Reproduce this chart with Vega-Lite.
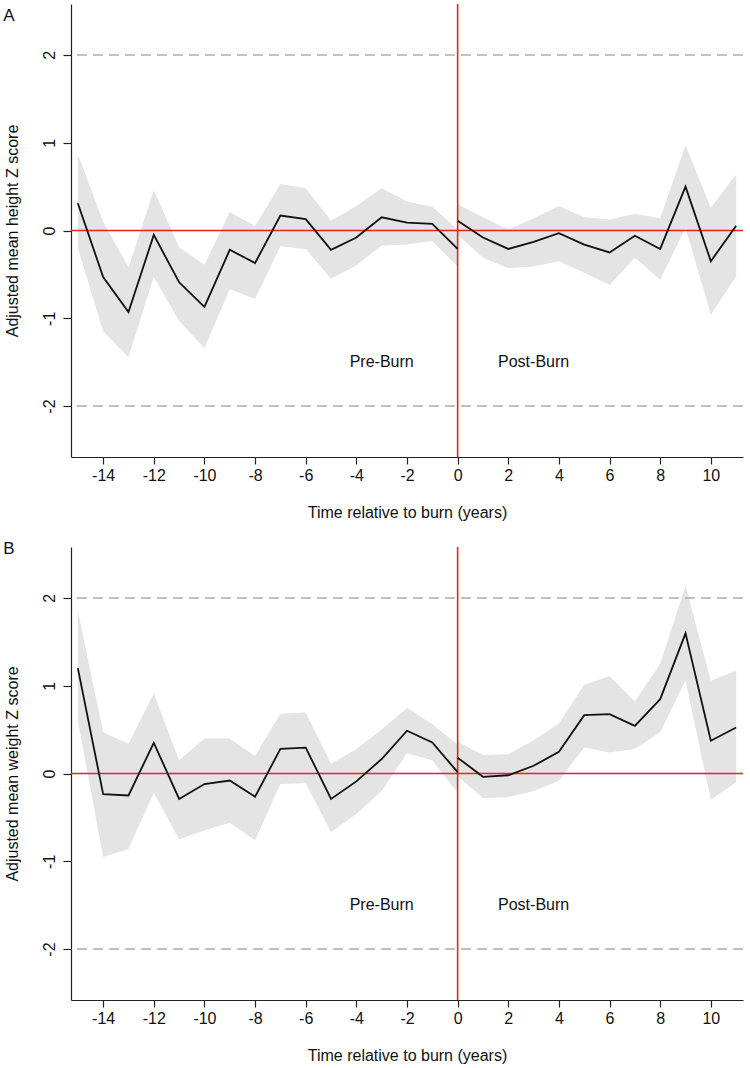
{
  "$schema": "https://vega.github.io/schema/vega-lite/v6.json",
  "padding": {"left": 3, "top": 3, "right": 3, "bottom": 3},
  "background": "white",
  "spacing": 20,
  "config": {
    "view": {"stroke": null},
    "font": "Liberation Sans",
    "axis": {
      "grid": false,
      "domainColor": "#222222",
      "tickColor": "#222222",
      "domainWidth": 1.2,
      "tickWidth": 1.2,
      "tickSize": 7,
      "labelFont": "Liberation Sans",
      "labelFontSize": 16,
      "labelColor": "#111111",
      "titleFont": "Liberation Sans",
      "titleFontSize": 16,
      "titleFontWeight": "normal",
      "titleColor": "#111111"
    }
  },
  "datasets": {
    "height": [
      {"t": -15, "period": "pre", "est": 0.31, "lo": -0.2, "hi": 0.87},
      {"t": -14, "period": "pre", "est": -0.53, "lo": -1.15, "hi": 0.1},
      {"t": -13, "period": "pre", "est": -0.93, "lo": -1.44, "hi": -0.42},
      {"t": -12, "period": "pre", "est": -0.05, "lo": -0.53, "hi": 0.46},
      {"t": -11, "period": "pre", "est": -0.59, "lo": -1.03, "hi": -0.19},
      {"t": -10, "period": "pre", "est": -0.87, "lo": -1.34, "hi": -0.39},
      {"t": -9, "period": "pre", "est": -0.22, "lo": -0.67, "hi": 0.21},
      {"t": -8, "period": "pre", "est": -0.37, "lo": -0.78, "hi": 0.05},
      {"t": -7, "period": "pre", "est": 0.17, "lo": -0.18, "hi": 0.53},
      {"t": -6, "period": "pre", "est": 0.13, "lo": -0.21, "hi": 0.48},
      {"t": -5, "period": "pre", "est": -0.22, "lo": -0.55, "hi": 0.11},
      {"t": -4, "period": "pre", "est": -0.08, "lo": -0.4, "hi": 0.28},
      {"t": -3, "period": "pre", "est": 0.15, "lo": -0.17, "hi": 0.48},
      {"t": -2, "period": "pre", "est": 0.09, "lo": -0.16, "hi": 0.33},
      {"t": -1, "period": "pre", "est": 0.075, "lo": -0.12, "hi": 0.27},
      {"t": 0, "period": "pre", "est": -0.21, "lo": -0.41, "hi": 0.01},
      {"t": 0, "period": "post", "est": 0.11, "lo": -0.05, "hi": 0.3},
      {"t": 1, "period": "post", "est": -0.08, "lo": -0.31, "hi": 0.15},
      {"t": 2, "period": "post", "est": -0.21, "lo": -0.43, "hi": 0.01},
      {"t": 3, "period": "post", "est": -0.13, "lo": -0.41, "hi": 0.14},
      {"t": 4, "period": "post", "est": -0.03, "lo": -0.35, "hi": 0.28},
      {"t": 5, "period": "post", "est": -0.16, "lo": -0.48, "hi": 0.15},
      {"t": 6, "period": "post", "est": -0.25, "lo": -0.62, "hi": 0.125},
      {"t": 7, "period": "post", "est": -0.06, "lo": -0.31, "hi": 0.19},
      {"t": 8, "period": "post", "est": -0.21, "lo": -0.56, "hi": 0.14},
      {"t": 9, "period": "post", "est": 0.5, "lo": 0.03, "hi": 0.97},
      {"t": 10, "period": "post", "est": -0.35, "lo": -0.96, "hi": 0.26},
      {"t": 11, "period": "post", "est": 0.055, "lo": -0.52, "hi": 0.64}
    ],
    "weight": [
      {"t": -15, "period": "pre", "est": 1.2, "lo": 0.6, "hi": 1.85},
      {"t": -14, "period": "pre", "est": -0.235, "lo": -0.95, "hi": 0.47},
      {"t": -13, "period": "pre", "est": -0.25, "lo": -0.86, "hi": 0.34},
      {"t": -12, "period": "pre", "est": 0.35, "lo": -0.22, "hi": 0.91},
      {"t": -11, "period": "pre", "est": -0.29, "lo": -0.75, "hi": 0.15},
      {"t": -10, "period": "pre", "est": -0.12, "lo": -0.65, "hi": 0.4},
      {"t": -9, "period": "pre", "est": -0.08, "lo": -0.56, "hi": 0.4},
      {"t": -8, "period": "pre", "est": -0.265, "lo": -0.76, "hi": 0.2},
      {"t": -7, "period": "pre", "est": 0.28, "lo": -0.12, "hi": 0.68},
      {"t": -6, "period": "pre", "est": 0.295, "lo": -0.11, "hi": 0.695},
      {"t": -5, "period": "pre", "est": -0.29, "lo": -0.67, "hi": 0.11},
      {"t": -4, "period": "pre", "est": -0.09, "lo": -0.46, "hi": 0.28},
      {"t": -3, "period": "pre", "est": 0.165, "lo": -0.2, "hi": 0.5},
      {"t": -2, "period": "pre", "est": 0.487, "lo": 0.23, "hi": 0.75},
      {"t": -1, "period": "pre", "est": 0.353, "lo": 0.15, "hi": 0.56},
      {"t": 0, "period": "pre", "est": 0.015, "lo": -0.22, "hi": 0.33},
      {"t": 0, "period": "post", "est": 0.18, "lo": -0.03, "hi": 0.365},
      {"t": 1, "period": "post", "est": -0.038, "lo": -0.28, "hi": 0.21},
      {"t": 2, "period": "post", "est": -0.02, "lo": -0.27, "hi": 0.22},
      {"t": 3, "period": "post", "est": 0.088, "lo": -0.2, "hi": 0.38},
      {"t": 4, "period": "post", "est": 0.247, "lo": -0.083, "hi": 0.57},
      {"t": 5, "period": "post", "est": 0.665, "lo": 0.296, "hi": 1.01},
      {"t": 6, "period": "post", "est": 0.677, "lo": 0.24, "hi": 1.11},
      {"t": 7, "period": "post", "est": 0.543, "lo": 0.28, "hi": 0.82},
      {"t": 8, "period": "post", "est": 0.847, "lo": 0.47, "hi": 1.25},
      {"t": 9, "period": "post", "est": 1.596, "lo": 1.06, "hi": 2.14},
      {"t": 10, "period": "post", "est": 0.373, "lo": -0.3, "hi": 1.056},
      {"t": 11, "period": "post", "est": 0.524, "lo": -0.1, "hi": 1.17}
    ],
    "refs": [{"z": 2}, {"z": -2}],
    "zeroH": [{"zh": 0}],
    "zeroV": [{"tv": 0}],
    "labels": [{"t": -3, "z": -1.5, "label": "Pre-Burn"}, {"t": 3, "z": -1.5, "label": "Post-Burn"}],
    "panelA": [{"t": -17.95, "z": 2.386, "label": "A"}],
    "panelB": [{"t": -17.95, "z": 2.5, "label": "B"}]
  },
  "vconcat": [
    {
      "width": 672,
      "height": 453,
      "layer": [
        {
          "data": {"name": "height"},
          "mark": {"type": "area", "color": "#e4e4e4", "opacity": 1},
          "encoding": {
            "x": {"field": "t", "type": "quantitative", "scale": {"domain": [-15.27, 11.27], "nice": false, "zero": false},
              "axis": {"values": [-14, -12, -10, -8, -6, -4, -2, 0, 2, 4, 6, 8, 10], "labelExpr": "'' + datum.value", "labelPadding": 3, "titlePadding": 21, "title": "Time relative to burn (years)"}},
            "y": {"field": "lo", "type": "quantitative", "scale": {"domain": [-2.58, 2.58], "nice": false, "zero": false},
              "axis": {"values": [-2, -1, 0, 1, 2], "labelExpr": "'' + datum.value", "labelAngle": 270, "labelAlign": "center", "labelBaseline": "bottom", "labelPadding": 6, "tickSize": 8, "titlePadding": 21, "title": "Adjusted mean height Z score"}},
            "y2": {"field": "hi"},
            "detail": {"field": "period"}
          }
        },
        {
          "data": {"name": "refs"},
          "mark": {"type": "rule", "color": "#acacac", "strokeWidth": 1.5, "strokeDash": [10, 6]},
          "encoding": {"y": {"field": "z", "type": "quantitative"}}
        },
        {
          "data": {"name": "zeroV"},
          "mark": {"type": "rule", "stroke": "#e8231f", "strokeWidth": 1.6, "opacity": 1},
          "encoding": {"x": {"field": "tv", "type": "quantitative"}}
        },
        {
          "data": {"name": "zeroH"},
          "mark": {"type": "rule", "stroke": "#e8231f", "strokeWidth": 1.6, "opacity": 1},
          "encoding": {"y": {"field": "zh", "type": "quantitative"}}
        },
        {
          "data": {"name": "height"},
          "mark": {"type": "line", "color": "#111111", "strokeWidth": 1.8},
          "encoding": {
            "x": {"field": "t", "type": "quantitative"},
            "y": {"field": "est", "type": "quantitative"},
            "detail": {"field": "period"}
          }
        },
        {
          "data": {"name": "labels"},
          "mark": {"type": "text", "fontSize": 16, "font": "Liberation Sans", "align": "center", "baseline": "middle", "color": "#111111"},
          "encoding": {
            "x": {"field": "t", "type": "quantitative"},
            "y": {"field": "z", "type": "quantitative"},
            "text": {"field": "label"}
          }
        },
        {
          "data": {"name": "panelA"},
          "mark": {"type": "text", "fontSize": 17, "font": "Liberation Sans", "align": "left", "baseline": "alphabetic", "color": "#111111", "clip": false},
          "encoding": {
            "x": {"field": "t", "type": "quantitative"},
            "y": {"field": "z", "type": "quantitative"},
            "text": {"field": "label"}
          }
        }
      ]
    },
    {
      "width": 672,
      "height": 453,
      "layer": [
        {
          "data": {"name": "weight"},
          "mark": {"type": "area", "color": "#e4e4e4", "opacity": 1},
          "encoding": {
            "x": {"field": "t", "type": "quantitative", "scale": {"domain": [-15.27, 11.27], "nice": false, "zero": false},
              "axis": {"values": [-14, -12, -10, -8, -6, -4, -2, 0, 2, 4, 6, 8, 10], "labelExpr": "'' + datum.value", "labelPadding": 3, "titlePadding": 21, "title": "Time relative to burn (years)"}},
            "y": {"field": "lo", "type": "quantitative", "scale": {"domain": [-2.58, 2.58], "nice": false, "zero": false},
              "axis": {"values": [-2, -1, 0, 1, 2], "labelExpr": "'' + datum.value", "labelAngle": 270, "labelAlign": "center", "labelBaseline": "bottom", "labelPadding": 6, "tickSize": 8, "titlePadding": 21, "title": "Adjusted mean weight Z score"}},
            "y2": {"field": "hi"},
            "detail": {"field": "period"}
          }
        },
        {
          "data": {"name": "refs"},
          "mark": {"type": "rule", "color": "#acacac", "strokeWidth": 1.5, "strokeDash": [10, 6]},
          "encoding": {"y": {"field": "z", "type": "quantitative"}}
        },
        {
          "data": {"name": "zeroV"},
          "mark": {"type": "rule", "stroke": "#e8231f", "strokeWidth": 1.6, "opacity": 1},
          "encoding": {"x": {"field": "tv", "type": "quantitative"}}
        },
        {
          "data": {"name": "zeroH"},
          "mark": {"type": "rule", "stroke": "#e8231f", "strokeWidth": 1.6, "opacity": 1},
          "encoding": {"y": {"field": "zh", "type": "quantitative"}}
        },
        {
          "data": {"name": "weight"},
          "mark": {"type": "line", "color": "#111111", "strokeWidth": 1.8},
          "encoding": {
            "x": {"field": "t", "type": "quantitative"},
            "y": {"field": "est", "type": "quantitative"},
            "detail": {"field": "period"}
          }
        },
        {
          "data": {"name": "labels"},
          "mark": {"type": "text", "fontSize": 16, "font": "Liberation Sans", "align": "center", "baseline": "middle", "color": "#111111"},
          "encoding": {
            "x": {"field": "t", "type": "quantitative"},
            "y": {"field": "z", "type": "quantitative"},
            "text": {"field": "label"}
          }
        },
        {
          "data": {"name": "panelB"},
          "mark": {"type": "text", "fontSize": 17, "font": "Liberation Sans", "align": "left", "baseline": "alphabetic", "color": "#111111", "clip": false},
          "encoding": {
            "x": {"field": "t", "type": "quantitative"},
            "y": {"field": "z", "type": "quantitative"},
            "text": {"field": "label"}
          }
        }
      ]
    }
  ]
}
